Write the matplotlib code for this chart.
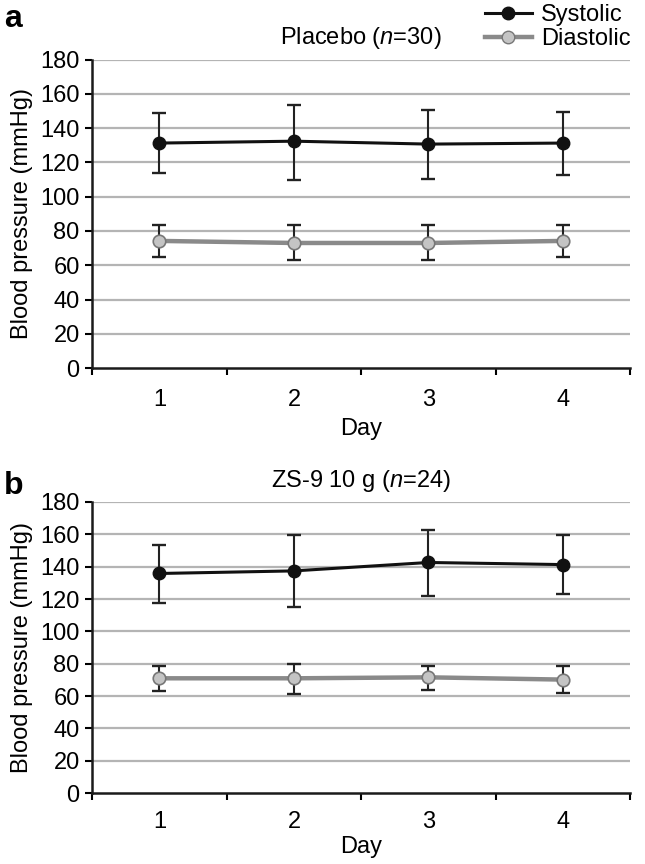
import matplotlib
matplotlib.use("Agg")
import matplotlib.pyplot as plt
from matplotlib.lines import Line2D
from matplotlib.ticker import FixedLocator, NullFormatter

plt.rcParams['font.family'] = ['Liberation Sans', 'DejaVu Sans']
plt.rcParams['mathtext.fontset'] = 'custom'
plt.rcParams['mathtext.it'] = 'Liberation Sans:italic'
plt.rcParams['mathtext.rm'] = 'Liberation Sans'

days = [1, 2, 3, 4]
yticks = [0, 20, 40, 60, 80, 100, 120, 140, 160, 180]

# panel a: placebo
placebo_sys = [131.3, 132.4, 130.7, 131.3]
placebo_sys_lo = [113.7, 109.8, 110.2, 112.9]
placebo_sys_hi = [148.9, 153.6, 150.8, 149.7]
placebo_dia = [74.2, 73.0, 73.0, 74.2]
placebo_dia_lo = [64.9, 63.3, 63.3, 64.9]
placebo_dia_hi = [83.2, 83.2, 83.2, 83.2]

# panel b: ZS-9 10 g
zs9_sys = [135.8, 137.4, 142.6, 141.3]
zs9_sys_lo = [117.5, 115.0, 122.0, 123.0]
zs9_sys_hi = [153.6, 159.3, 162.7, 159.5]
zs9_dia = [71.0, 71.0, 71.6, 70.2]
zs9_dia_lo = [63.2, 61.6, 63.7, 62.0]
zs9_dia_hi = [78.7, 79.8, 78.7, 78.7]

FS = 17
SYS_C = "#111111"
DIA_LINE = "#8a8a8a"
DIA_FACE = "#c4c4c4"
ERR_C = "#222222"


def panel(ax, title, sys, sys_lo, sys_hi, dia, dia_lo, dia_hi, xpad=15, lpad=5):
    ax.set_xlim(0.5, 4.5)
    ax.set_ylim(0, 180)
    for y in yticks[1:]:
        ax.axhline(y, color="#b4b4b4", lw=1.6, zorder=0)
    sys_err = [[s - l for s, l in zip(sys, sys_lo)], [h - s for s, h in zip(sys, sys_hi)]]
    dia_err = [[s - l for s, l in zip(dia, dia_lo)], [h - s for s, h in zip(dia, dia_hi)]]
    ax.errorbar(days, dia, yerr=dia_err, fmt="none", ecolor=ERR_C, elinewidth=1.5,
                capsize=5, capthick=1.7, zorder=2)
    ax.plot(days, dia, color=DIA_LINE, lw=3.2, marker="o", ms=9,
            mfc=DIA_FACE, mec="#777777", mew=1.2, zorder=3)
    ax.errorbar(days, sys, yerr=sys_err, fmt="none", ecolor=ERR_C, elinewidth=1.5,
                capsize=5, capthick=1.7, zorder=2)
    ax.plot(days, sys, color=SYS_C, lw=2.2, marker="o", ms=9,
            mfc=SYS_C, mec=SYS_C, zorder=4)

    ax.spines["top"].set_visible(False)
    ax.spines["right"].set_visible(False)
    ax.spines["left"].set_linewidth(1.8)
    ax.spines["bottom"].set_linewidth(1.8)
    ax.spines["left"].set_color("#1a1a1a")
    ax.spines["bottom"].set_color("#1a1a1a")

    ax.set_yticks(yticks)
    ax.tick_params(axis="y", direction="out", length=5, width=1.5, pad=4, labelsize=FS)
    ax.set_xticks(days)
    ax.xaxis.set_minor_locator(FixedLocator([0.5, 1.5, 2.5, 3.5, 4.5]))
    ax.xaxis.set_minor_formatter(NullFormatter())
    ax.tick_params(axis="x", which="major", length=0, pad=xpad, labelsize=FS)
    ax.tick_params(axis="x", which="minor", direction="out", length=5, width=1.5)

    ax.set_ylabel("Blood pressure (mmHg)", fontsize=FS, labelpad=5)
    ax.set_xlabel("Day", fontsize=FS, labelpad=lpad)
    ax.set_title(title, fontsize=FS, pad=11)


fig = plt.figure(figsize=(6.45, 8.64), dpi=100)
ax1 = fig.add_axes([0.143, 0.574, 0.834, 0.357])
ax2 = fig.add_axes([0.143, 0.082, 0.834, 0.337])

panel(ax1, "Placebo ($n$=30)", placebo_sys, placebo_sys_lo, placebo_sys_hi,
      placebo_dia, placebo_dia_lo, placebo_dia_hi)
panel(ax2, "ZS-9 10 g ($n$=24)", zs9_sys, zs9_sys_lo, zs9_sys_hi,
      zs9_dia, zs9_dia_lo, zs9_dia_hi, xpad=13, lpad=2)

fig.text(0.006, 0.995, "a", fontsize=23, fontweight="bold", va="top", ha="left")
fig.text(0.006, 0.455, "b", fontsize=23, fontweight="bold", va="top", ha="left")

handles = [
    Line2D([], [], color=SYS_C, lw=2.2, marker="o", ms=9, mfc=SYS_C, mec=SYS_C),
    Line2D([], [], color=DIA_LINE, lw=3.2, marker="o", ms=9, mfc=DIA_FACE, mec="#777777"),
]
fig.legend(handles, ["Systolic", "Diastolic"], loc="upper right",
           bbox_to_anchor=(1.0, 1.012), frameon=False, fontsize=FS,
           handlelength=2.0, handletextpad=0.4, labelspacing=0.1, borderaxespad=0.2)

fig.savefig("out.png", dpi=100)
